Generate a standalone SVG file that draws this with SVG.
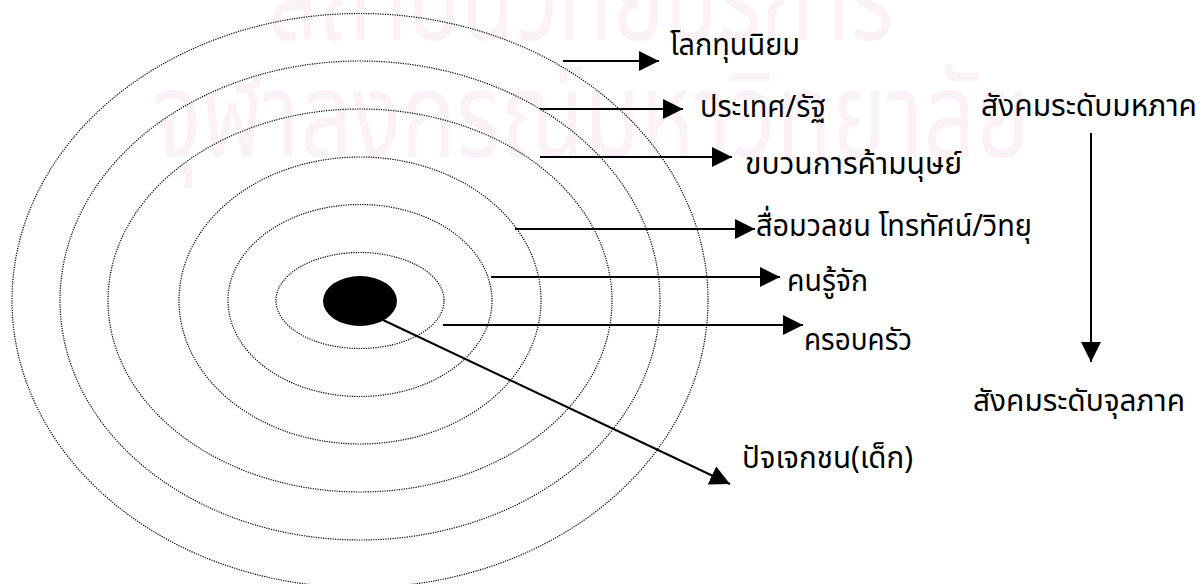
<svg xmlns="http://www.w3.org/2000/svg" width="1201" height="584" viewBox="0 0 1201 584">
<style>
.wm{font-family:"Noto Sans Thai","Loma","Garuda","Noto Sans","DejaVu Sans",sans-serif;fill:#fbf2f7}
.ring{fill:none;stroke:#000;stroke-width:1.2;stroke-dasharray:1.2 1.2}
.lbl{font-family:"Noto Sans Thai","Loma","Garuda","Noto Sans","DejaVu Sans",sans-serif;font-size:30px;fill:#000}
.arr{stroke:#000;stroke-width:2;fill:none;marker-end:url(#ah)}
</style>
<defs>
<marker id="ah" markerUnits="userSpaceOnUse" markerWidth="21" markerHeight="21" refX="20" refY="10" orient="auto" viewBox="0 0 21 21">
<path d="M0,0 L20,10 L0,20 Z" fill="#000"/>
</marker>
</defs>
<rect width="1201" height="584" fill="#fff"/>
<g id="watermark">
<text class="wm" x="268" y="40" font-size="120" textLength="625" lengthAdjust="spacingAndGlyphs">สถาบันวิทยบริการ</text>
<text class="wm" x="153" y="157" font-size="120" textLength="877" lengthAdjust="spacingAndGlyphs">จุฬาลงกรณ์มหาวิทยาลัย</text>
</g>
<g id="rings">
<ellipse class="ring" cx="360" cy="300.5" rx="348" ry="287"/>
<ellipse class="ring" cx="360" cy="300.5" rx="300" ry="239.5"/>
<ellipse class="ring" cx="360" cy="300.5" rx="252" ry="191.5"/>
<ellipse class="ring" cx="360" cy="300.5" rx="181" ry="143.5"/>
<ellipse class="ring" cx="360" cy="300.5" rx="132" ry="96"/>
<ellipse class="ring" cx="360" cy="300.5" rx="84" ry="48"/>
</g>
<g id="core"><ellipse cx="360" cy="301" rx="37" ry="25" fill="#000"/></g>
<g id="connectors">
<line class="arr" x1="563" y1="61" x2="659" y2="61"/>
<line class="arr" x1="540" y1="109" x2="683" y2="109"/>
<line class="arr" x1="540" y1="157" x2="732" y2="157"/>
<line class="arr" x1="515" y1="229" x2="755" y2="229"/>
<line class="arr" x1="491" y1="277" x2="780" y2="277"/>
<line class="arr" x1="443" y1="325" x2="803" y2="325"/>
<line class="arr" x1="383" y1="320" x2="730" y2="484"/>
<line class="arr" x1="1091" y1="133" x2="1091" y2="362"/>
</g>
<g id="n-world"><text class="lbl" x="670" y="55" textLength="130" lengthAdjust="spacingAndGlyphs">โลกทุนนิยม</text></g>
<g id="n-state"><text class="lbl" x="700" y="117" textLength="126" lengthAdjust="spacingAndGlyphs">ประเทศ/รัฐ</text></g>
<g id="n-traffic"><text class="lbl" x="745" y="174" textLength="217" lengthAdjust="spacingAndGlyphs">ขบวนการค้ามนุษย์</text></g>
<g id="n-media"><text class="lbl" x="756" y="236" textLength="276" lengthAdjust="spacingAndGlyphs">สื่อมวลชน โทรทัศน์/วิทยุ</text></g>
<g id="n-acq"><text class="lbl" x="787" y="291" textLength="81" lengthAdjust="spacingAndGlyphs">คนรู้จัก</text></g>
<g id="n-family"><text class="lbl" x="804" y="350" textLength="108" lengthAdjust="spacingAndGlyphs">ครอบครัว</text></g>
<g id="n-child"><text class="lbl" x="742" y="468" textLength="171" lengthAdjust="spacingAndGlyphs">ปัจเจกชน(เด็ก)</text></g>
<g id="n-macro"><text class="lbl" x="981" y="116" textLength="216" lengthAdjust="spacingAndGlyphs">สังคมระดับมหภาค</text></g>
<g id="n-micro"><text class="lbl" x="973" y="411" textLength="212" lengthAdjust="spacingAndGlyphs">สังคมระดับจุลภาค</text></g>
</svg>
